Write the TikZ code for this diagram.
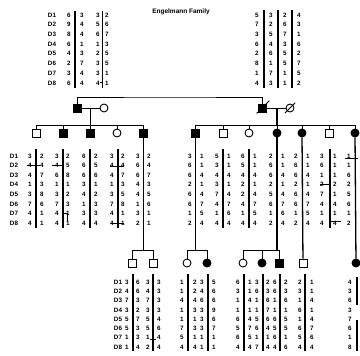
\documentclass[tikz,border=0pt]{standalone}
\usepackage{fontspec}
\setmainfont{Liberation Sans}
\usetikzlibrary{calc}
\newcommand\hapcol[4]{\foreach \v [count=\k] in {#4}{\node[al] at (#1,{#2+#3*(\k-1)}) {\v};}}
\begin{document}
\begin{tikzpicture}[x=1pt,y=-1pt,
  m/.style={draw, rectangle, minimum size=8pt, inner sep=0pt, line width=0.9pt},
  f/.style={draw, circle, minimum size=8pt, inner sep=0pt, line width=0.9pt},
  aff/.style={fill=black},
  al/.style={font=\bfseries\fontsize{6.3}{7}\selectfont, inner sep=0pt},
  ln/.style={line width=0.8pt},
  bar/.style={line width=1.1pt},
  thk/.style={line width=1.3pt}]
\useasboundingbox (0,0) rectangle (360,356);
\node[font=\bfseries\fontsize{6.5}{7}\selectfont] (title) at (181,12) {Engelmann Family};

% ---------- top haplotypes ----------
\hapcol{52}{15}{9.7}{D1,D2,D3,D4,D5,D6,D7,D8}
\hapcol{69}{15}{9.7}{6,9,8,6,4,2,3,6}
\hapcol{82}{15}{9.7}{3,4,4,1,3,7,4,4}
\hapcol{98}{15}{9.7}{3,5,6,1,2,3,3,4}
\hapcol{107}{15}{9.7}{2,6,7,3,5,5,1,1}
\draw[bar] (75,11) -- (75,88);
\draw[bar] (102.5,11) -- (102.5,88);
\draw[ln] (100,82) -- (102.5,82);

\hapcol{257}{15}{9.7}{5,7,3,6,2,8,1,4}
\hapcol{271}{15}{9.7}{3,2,5,4,6,1,7,3}
\hapcol{285}{15}{9.7}{2,6,7,3,5,5,1,1}
\hapcol{299}{15}{9.7}{4,3,1,6,2,7,5,2}
\draw[bar] (264,10) -- (264,88);
\draw[bar] (278,10) -- (278,88);
\draw[bar] (292,10) -- (292,88);

% ---------- generation I ----------
\node[m,aff] (F1) at (77,108) {};
\node[f] (M1) at (104,108) {};
\node[m,aff] (F2) at (262,108) {};
\node[f] (M2) at (290,108) {};
\draw[ln] ($(F2.south west)+(-1,1)$) -- ($(F2.north east)+(3,-3)$);
\draw[ln] ($(M2.south west)+(-2,2)$) -- ($(M2.north east)+(2,-2)$);
\coordinate (top) at (170,97);
\draw[ln] (F1.north) |- (top) -| (F2.north);
\draw[ln] (F1) -- (M1);
\draw[ln] (F2) -- (M2);
\coordinate (d1) at (90,108);
\coordinate (s1) at (90,125);
\coordinate (d2) at (277,108);
\coordinate (s2) at (277,125);
\draw[ln] (d1) -- (s1);
\draw[thk] (d2) -- (s2);

% ---------- generation II ----------
\node[m] (L1) at (36,133) {};
\node[m,aff] (L2) at (63,133) {};
\node[m,aff] (L3) at (90,133) {};
\node[f] (L4) at (117,133) {};
\node[m,aff] (L5) at (143,133) {};
\draw[ln] (L1 |- s1) -- (L5 |- s1);
\foreach \c in {L1,L2,L3,L4,L5} \draw[ln] (\c) -- (\c |- s1);

\node[m,aff] (R1) at (195,133) {};
\node[m] (R2) at (223,133) {};
\node[f] (R3) at (249,133) {};
\node[f,aff] (R4) at (277,133) {};
\node[f,aff] (R5) at (302,133) {};
\node[m] (R6) at (329,133) {};
\node[f,aff] (R7) at (355,133) {};
\draw[ln] (R1 |- s2) -- (R7 |- s2);
\foreach \c in {R1,R2,R3,R4,R5,R6,R7} \draw[ln] (\c) -- (\c |- s2);

% gen II haplotypes left
\hapcol{14}{156}{9.6}{D1,D2,D3,D4,D5,D6,D7,D8}
\hapcol{30}{156}{9.6}{3,4,4,1,3,7,4,4}
\hapcol{42}{156}{9.6}{2,4,7,3,8,6,1,1}
\hapcol{57}{156}{9.6}{3,4,6,1,3,7,4,4}
\hapcol{68}{156}{9.6}{2,5,8,1,2,3,1,1}
\hapcol{84}{156}{9.6}{6,6,6,3,4,1,3,4}
\hapcol{96}{156}{9.6}{2,5,6,1,2,3,3,4}
\hapcol{112}{156}{9.6}{3,4,4,1,3,7,4,4}
\hapcol{123}{156}{9.6}{2,4,7,3,5,8,1,1}
\hapcol{138}{156}{9.6}{3,6,6,4,4,1,3,2}
\hapcol{149}{156}{9.6}{2,4,7,3,5,6,1,1}
\foreach \x in {36,63,90,118} \draw[bar] (\x,149) -- (\x,228);
\draw[ln] (27,165) -- (40,165);
\draw[ln] (52,165) -- (62,165);
\draw[ln] (110,166) -- (124,166);
\draw[ln] (111,223) -- (124,223);
\draw[ln] (63,213) -- (67,213) -- (67,221);

% gen II haplotypes right
\hapcol{190}{156}{9.6}{3,6,6,2,6,6,1,2}
\hapcol{202}{156}{9.6}{1,1,4,1,4,7,5,4}
\hapcol{217}{156}{9.6}{5,3,4,3,7,4,1,4}
\hapcol{229}{156}{9.6}{1,1,4,1,4,7,6,4}
\hapcol{243}{156}{9.6}{6,5,4,2,2,4,1,4}
\hapcol{255}{156}{9.6}{1,1,4,1,4,7,5,4}
\hapcol{271}{156}{9.6}{2,6,6,2,5,6,1,2}
\hapcol{283}{156}{9.6}{1,1,4,1,4,7,6,4}
\hapcol{296}{156}{9.6}{2,6,6,2,6,6,1,2}
\hapcol{308}{156}{9.6}{1,1,4,1,4,7,5,4}
\hapcol{322}{156}{9.6}{3,6,1,2,7,4,1,4}
\hapcol{335}{156}{9.6}{1,1,1,2,1,4,1,4}
\hapcol{349}{156}{9.6}{1,1,6,2,5,6,1,2}
\foreach \x in {223,249,330} \draw[bar] (\x,149) -- (\x,228);
\draw[ln] (320,184) -- (330,184);
\draw[ln] (330,221) -- (341,221);
\draw[ln] (330,221) -- (330,226);
\draw[ln] (345,158) -- (358,158);

% ---------- generation III ----------
\coordinate (s3) at (143,250);
\coordinate (s4) at (195,250);
\coordinate (s5) at (277,250);
\draw[ln] (L5) -- (s3);
\draw[ln] (R1) -- (s4);
\draw[thk] (R4) -- (s5);

\node[m] (G1) at (132,263) {};
\node[m] (G2) at (153,263) {};
\draw[ln] (G1 |- s3) -- (G2 |- s3);
\foreach \c in {G1,G2} \draw[ln] (\c) -- (\c |- s3);

\node[f] (g1) at (187,263) {};
\node[f,aff] (g2) at (207,263) {};
\draw[ln] (g1 |- s4) -- (g2 |- s4);
\foreach \c in {g1,g2} \draw[ln] (\c) -- (\c |- s4);

\node[f] (g3) at (243,263) {};
\node[f,aff] (g4) at (262,263) {};
\node[m,aff] (g5) at (279,263) {};
\draw[ln] (g3 |- s5) -- (g5 |- s5);
\foreach \c in {g3,g4,g5} \draw[ln] (\c) -- (\c |- s5);

\node[m] (g6) at (303,263) {};
\node[f,aff] (g7) at (356,263) {};
\draw[thk] (R5) -- (g6);
\draw[thk] (R7) -- (g7);

% gen III haplotypes left
\hapcol{118}{282}{9.3}{D1,D2,D3,D4,D5,D6,D7,D8}
\hapcol{127}{282}{9.3}{3,4,7,3,5,5,1,1}
\hapcol{138}{282}{9.3}{6,6,3,2,7,3,3,4}
\hapcol{148}{282}{9.3}{3,4,7,3,5,5,1,2}
\hapcol{159}{282}{9.3}{3,3,3,3,4,6,4,4}
\foreach \x in {133,153} \draw[bar] (\x,274) -- (\x,351);
\draw[ln] (150,339) -- (156,339);

% gen III haplotypes right
\hapcol{182}{282}{9.3}{1,1,4,1,1,7,5,4}
\hapcol{195}{282}{9.3}{2,2,4,3,1,3,1,4}
\hapcol{202}{282}{9.3}{3,4,6,3,3,3,1,1}
\hapcol{214}{282}{9.3}{5,6,6,9,6,7,1,1}
\hapcol{238}{282}{9.3}{6,3,1,1,6,5,6,4}
\hapcol{250}{282}{9.3}{1,1,4,1,4,7,5,4}
\hapcol{257}{282}{9.3}{3,6,1,1,5,6,1,7}
\hapcol{268}{282}{9.3}{2,3,6,7,6,4,1,4}
\hapcol{275}{282}{9.3}{6,6,1,1,6,5,6,4}
\hapcol{286}{282}{9.3}{2,3,6,1,5,5,1,6}
\hapcol{300}{282}{9.3}{2,3,1,6,1,6,5,4}
\hapcol{312}{282}{9.3}{1,1,4,1,4,7,6,4}
\hapcol{350}{282}{9.3}{4,3,6,3,7,6,1,8}
\foreach \x in {188,208,244,263,280,305} \draw[bar] (\x,274) -- (\x,351);
\draw[bar] (357,277) -- (357,305);
\draw[bar] (357,320) -- (357,351);
\end{tikzpicture}
\end{document}
